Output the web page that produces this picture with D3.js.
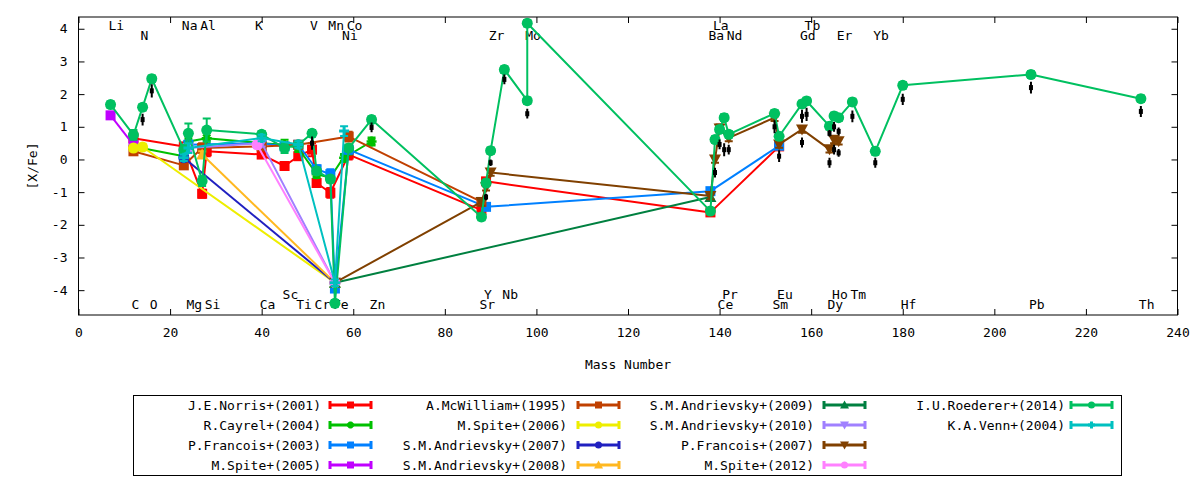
<!DOCTYPE html>
<html>
<head>
<meta charset="utf-8">
<script src="https://cdn.jsdelivr.net/npm/d3@7"></script>
<style>
    body { margin: 0; background: #fff; }
    text { font-family: "DejaVu Sans Mono", monospace; font-size: 13px; fill: #000; }
</style>
</head>
<body>
<svg id="chart" width="1200" height="480"></svg>
<script>
// ---- data ([X/Fe] against mass number) ----
const norrisMass = [12, 23, 27, 28, 40, 45, 48, 51, 52, 55, 59, 88, 89, 138, 153];
const norrisVal  = [0.65, 0.4, -1.05, 0.25, 0.15, -0.2, 0.1, 0.3, -0.72, -1.02, 0.15, -1.55, -0.67, -1.62, 0.4];
const norrisErr  = [0.2, 0.1, 0.12, 0.15, 0.1, 0.12, 0.12, 0.2, 0.12, 0.15, 0.15, 0.1, 0.1, 0.1, 0.1];

const cayrelMass = [12, 23, 24, 28, 40, 45, 48, 52, 55, 59, 58, 64];
const cayrelVal  = [0.4, 0.1, 0.55, 0.65, 0.5, 0.45, 0.35, -0.45, -0.55, 0.3, 0.05, 0.55];
const cayrelErr  = [0.15, 0.15, 0.15, 0.15, 0.1, 0.15, 0.12, 0.12, 0.15, 0.15, 0.12, 0.12];

const francois03Mass = [23, 24, 40, 45, 48, 52, 55, 56, 59, 89, 138, 153];
const francois03Val  = [0.15, 0.45, 0.5, 0.4, 0.45, -0.3, -0.45, -3.95, 0.3, -1.45, -0.97, 0.42];
const francois03Err  = [0.1, 0.12, 0.1, 0.1, 0.1, 0.12, 0.15, 0.1, 0.12, 0.1, 0.1, 0.1];

const spite05Mass = [7, 12];
const spite05Val  = [1.35, 0.45];
const spite05Err  = [0.1, 0.1];

const mcwilliamMass = [12, 23, 27, 40, 48, 59, 88];
const mcwilliamVal  = [0.25, -0.18, 0.35, 0.4, 0.45, 0.7, -1.3];
const mcwilliamErr  = [0.1, 0.1, 0.15, 0.1, 0.1, 0.15, 0.1];

const spite06Mass = [12, 14, 56];
const spite06Val  = [0.35, 0.38, -3.77];
const spite06Err  = [0.1, 0.1, 0.1];

const andr07Mass = [23, 56];
const andr07Val  = [0.05, -3.77];
const andr07Err  = [0.1, 0.1];

const andr08Mass = [27, 56];
const andr08Val  = [0.15, -3.77];
const andr08Err  = [0.1, 0.1];

const andr09Mass = [56, 138];
const andr09Val  = [-3.77, -1.15];
const andr09Err  = [0.1, 0.1];

const andr10Mass = [24, 40, 56];
const andr10Val  = [0.35, 0.5, -3.77];
const andr10Err  = [0.1, 0.1, 0.1];

const francois07Mass = [56, 88, 89, 90, 138, 139, 140, 142, 152, 153, 158, 164, 165, 166];
const francois07Val  = [-3.77, -1.3, -0.85, -0.4, -1.12, 0.0, 0.95, 0.66, 1.28, 0.46, 0.92, 0.31, 0.6, 0.56];
const francois07Err  = [0.1, 0.12, 0.1, 0.1, 0.1, 0.1, 0.12, 0.1, 0.1, 0.1, 0.1, 0.1, 0.1, 0.1];

const spite12Mass = [39, 56];
const spite12Val  = [0.45, -3.77];
const spite12Err  = [0.1, 0.1];

const roedererMass = [7, 12, 14, 16, 23, 24, 27, 28, 40, 45, 48, 51, 52, 55, 56, 59, 64,
                      88, 89, 90, 93, 98, 98, 138, 139, 140, 141, 142, 152, 153, 158, 159,
                      164, 165, 166, 169, 174, 180, 208, 232];
const roedererVal  = [1.68, 0.75, 1.6, 2.47, 0.3, 0.8, -0.66, 0.9, 0.77, 0.35, 0.45, 0.8, -0.35, -0.6, -4.4, 0.35, 1.22,
                      -1.76, -0.72, 0.27, 2.75, 1.8, 4.17, -1.58, 0.61, 0.92, 1.28, 0.77, 1.41, 0.71, 1.7, 1.79,
                      1.02, 1.33, 1.28, 1.76, 0.25, 2.27, 2.6, 1.86];
const roedererErr  = [0.1, 0.15, 0.1, 0.1, 0.15, 0.3, 0.15, 0.35, 0.1, 0.15, 0.1, 0.1, 0.1, 0.1, 0.1, 0.1, 0.1,
                      0.1, 0.1, 0.1, 0.1, 0.1, 0.1, 0.1, 0.1, 0.1, 0.1, 0.1, 0.1, 0.1, 0.1, 0.1,
                      0.1, 0.1, 0.1, 0.1, 0.1, 0.1, 0.1, 0.1];

const vennMass = [23, 24, 40, 48, 56, 58];
const vennVal  = [0.05, 0.35, 0.66, 0.46, -3.77, 0.87];
const vennErr  = [0.1, 0.15, 0.1, 0.1, 0.1, 0.15];

// black error bars under the points
const blackMass = [14, 16, 51, 64, 89, 90, 93, 98, 139, 140, 141, 142, 152, 153, 158, 158, 159,
                   164, 164, 165, 165, 166, 166, 169, 174, 180, 208, 232];
const blackVal  = [1.22, 2.1, 0.5, 0.98, -1.15, -0.1, 2.45, 1.4, -0.4, 0.46, 0.3, 0.3, 1.0, 0.1, 1.32, 0.52, 1.38,
                   0.8, -0.1, 1.0, 0.3, 0.86, 0.2, 1.32, -0.1, 1.84, 2.2, 1.47];
const blackErr  = [0.18, 0.2, 0.2, 0.15, 0.1, 0.1, 0.15, 0.15, 0.15, 0.15, 0.2, 0.15, 0.2, 0.18, 0.2, 0.15, 0.2,
                   0.1, 0.15, 0.15, 0.15, 0.12, 0.12, 0.18, 0.15, 0.17, 0.18, 0.17];

// element labels
const topRow1 = ['Li', 'Na', 'Al', 'K', 'V', 'Mn', 'Co', 'La', 'Tb'];
const topRow1Mass = [7, 23, 27, 39, 51, 55, 59, 139, 159];
const topRow2 = ['N', 'Ni', 'Zr', 'Mo', 'Ba', 'Nd', 'Gd', 'Er', 'Yb'];
const topRow2Mass = [14, 58, 90, 98, 138, 142, 158, 166, 174];
const botRow1 = ['Sc', 'Y', 'Nb', 'Pr', 'Eu', 'Ho', 'Tm'];
const botRow1Mass = [45, 89, 93, 141, 153, 165, 169];
const botRow2 = ['C', 'O', 'Mg', 'Si', 'Ca', 'Ti', 'Cr', 'Fe', 'Zn', 'Sr', 'Ce', 'Sm', 'Dy', 'Hf', 'Pb', 'Th'];
const botRow2Mass = [12, 16, 24, 28, 40, 48, 52, 56, 64, 88, 140, 152, 164, 180, 208, 232];

const xTicks = [0, 20, 40, 60, 80, 100, 120, 140, 160, 180, 200, 220, 240];
const yTicks = [-4, -3, -2, -1, 0, 1, 2, 3, 4];

// ---- series table (legend order) ----
const seriesNames = ['J.E.Norris+(2001)', 'R.Cayrel+(2004)', 'P.Francois+(2003)', 'M.Spite+(2005)',
    'A.McWilliam+(1995)', 'M.Spite+(2006)', 'S.M.Andrievsky+(2007)', 'S.M.Andrievsky+(2008)',
    'S.M.Andrievsky+(2009)', 'S.M.Andrievsky+(2010)', 'P.Francois+(2007)', 'M.Spite+(2012)',
    'I.U.Roederer+(2014)', 'K.A.Venn+(2004)'];
const seriesMass = [norrisMass, cayrelMass, francois03Mass, spite05Mass, mcwilliamMass, spite06Mass,
    andr07Mass, andr08Mass, andr09Mass, andr10Mass, francois07Mass, spite12Mass, roedererMass, vennMass];
const seriesVal = [norrisVal, cayrelVal, francois03Val, spite05Val, mcwilliamVal, spite06Val,
    andr07Val, andr08Val, andr09Val, andr10Val, francois07Val, spite12Val, roedererVal, vennVal];
const seriesErr = [norrisErr, cayrelErr, francois03Err, spite05Err, mcwilliamErr, spite06Err,
    andr07Err, andr08Err, andr09Err, andr10Err, francois07Err, spite12Err, roedererErr, vennErr];

const seriesColors = ['#ff0000', '#00c000', '#0080ff', '#c000ff', '#c04000', '#eeee00', '#2020c0',
    '#ffb820', '#008040', '#a080ff', '#804000', '#ff80ff', '#00c060', '#00c0c0'];
const seriesShapes = ['square', 'star', 'square', 'square', 'square', 'circle', 'circle',
    'triUp', 'triUp', 'triDown', 'triDown', 'circle', 'circle', 'plus'];

const series = seriesNames.map((name, i) => ({
    name: name,
    color: seriesColors[i],
    shape: seriesShapes[i],
    points: seriesMass[i].map((m, j) => ({ m: m, v: seriesVal[i][j], e: seriesErr[i][j] }))
}));

// ---- layout ----
const margin = { top: 17, right: 22.5, bottom: 165, left: 78.5 };
const width = 1200, height = 480;
const plotBottom = height - margin.bottom;

const svg = d3.select('#chart');

const xScale = d3.scaleLinear()
    .domain([0, 240])
    .range([margin.left, width - margin.right]);

const yScale = d3.scaleLinear()
    .domain([-4.76, 4.36])
    .range([plotBottom, margin.top]);

svg.append('clipPath')
        .attr('id', 'plotClip')
    .append('rect')
        .attr('x', margin.left)
        .attr('y', margin.top)
        .attr('width', xScale.range()[1] - margin.left)
        .attr('height', plotBottom - margin.top);

// axes, ticks pointing inward, mirrored on top/right
const xAxis = d3.axisBottom(xScale).tickValues(xTicks).tickSizeInner(-6).tickSizeOuter(0)
    .tickPadding(13).tickFormat(d => String(d));
const yAxis = d3.axisLeft(yScale).tickValues(yTicks).tickSizeInner(-6).tickSizeOuter(0)
    .tickPadding(11).tickFormat(d => String(d));

const xAxisEl = svg.append('g')
    .attr('transform', `translate(0, ${plotBottom})`)
    .call(xAxis);
const yAxisEl = svg.append('g')
    .attr('transform', `translate(${margin.left}, 0)`)
    .call(yAxis);
svg.append('g')
    .attr('transform', `translate(0, ${margin.top})`)
    .call(d3.axisTop(xScale).tickValues(xTicks).tickSizeInner(-6).tickSizeOuter(0).tickFormat(''));
svg.append('g')
    .attr('transform', `translate(${xScale.range()[1]}, 0)`)
    .call(d3.axisRight(yScale).tickValues(yTicks).tickSizeInner(-6).tickSizeOuter(0).tickFormat(''));

svg.selectAll('.domain').remove();
svg.selectAll('.tick line').attr('stroke', '#000');
svg.selectAll('.tick text')
    .style('font-family', '"DejaVu Sans Mono", monospace')
    .style('font-size', '13px')
    .attr('fill', '#000');

svg.append('rect')
    .attr('x', margin.left)
    .attr('y', margin.top)
    .attr('width', xScale.range()[1] - margin.left)
    .attr('height', plotBottom - margin.top)
    .attr('fill', 'none')
    .attr('stroke', '#000')
    .attr('stroke-width', 1);

svg.append('text')
    .text('Mass Number')
    .attr('x', (margin.left + xScale.range()[1]) / 2)
    .attr('y', 369)
    .style('text-anchor', 'middle');

svg.append('text')
    .text('[X/Fe]')
    .attr('transform', 'rotate(-90)')
    .attr('x', -(margin.top + plotBottom) / 2)
    .attr('y', 37)
    .style('text-anchor', 'middle');

// element labels (drawn behind the data)
const labelGroup = svg.append('g');
function addLabels(names, masses, yVal) {
    labelGroup.selectAll(null)
        .data(names)
        .enter()
        .append('text')
        .text(d => d)
        .attr('x', (d, i) => xScale(masses[i]) - 2)
        .attr('y', yScale(yVal))
        .attr('dominant-baseline', 'central');
}
addLabels(topRow1, topRow1Mass, 4.1);
addLabels(topRow2, topRow2Mass, 3.8);
addLabels(botRow1, botRow1Mass, -4.12);
addLabels(botRow2, botRow2Mass, -4.45);

// marker drawing
function drawMarker(g, shape, cx, cy, s, color) {
    const h = s / 2;
    if (shape === 'circle') {
        g.append('circle').attr('cx', cx).attr('cy', cy).attr('r', h).attr('fill', color);
    } else if (shape === 'square') {
        g.append('rect').attr('x', cx - h).attr('y', cy - h).attr('width', s).attr('height', s).attr('fill', color);
    } else if (shape === 'triUp') {
        g.append('path').attr('d', `M${cx - h - 1},${cy + h}L${cx + h + 1},${cy + h}L${cx},${cy - h - 1}Z`).attr('fill', color);
    } else if (shape === 'triDown') {
        g.append('path').attr('d', `M${cx - h - 1},${cy - h}L${cx + h + 1},${cy - h}L${cx},${cy + h + 1}Z`).attr('fill', color);
    } else if (shape === 'plus') {
        g.append('path').attr('d', `M${cx - h},${cy}H${cx + h}M${cx},${cy - h}V${cy + h}`)
            .attr('stroke', color).attr('stroke-width', 3).attr('fill', 'none');
    } else if (shape === 'star') {
        g.append('path').attr('d', `M${cx - h},${cy}H${cx + h}M${cx},${cy - h}V${cy + h}` +
                `M${cx - h * 0.7},${cy - h * 0.7}L${cx + h * 0.7},${cy + h * 0.7}M${cx - h * 0.7},${cy + h * 0.7}L${cx + h * 0.7},${cy - h * 0.7}`)
            .attr('stroke', color).attr('stroke-width', 2.5).attr('fill', 'none');
    }
}

const plot = svg.append('g').attr('clip-path', 'url(#plotClip)');

const line = d3.line()
    .x(d => xScale(d.m))
    .y(d => yScale(d.v));

series.forEach(s => {
    const g = plot.append('g');
    g.append('path')
        .datum(s.points)
        .attr('d', line)
        .attr('fill', 'none')
        .attr('stroke', s.color)
        .attr('stroke-width', 2)
        .attr('stroke-linejoin', 'round');

    s.points.forEach(p => {
        const px = xScale(p.m);
        const y1 = yScale(p.v + p.e), y2 = yScale(p.v - p.e);
        g.append('path')
            .attr('d', `M${px},${y1}V${y2}M${px - 4},${y1}H${px + 4}M${px - 4},${y2}H${px + 4}`)
            .attr('stroke', s.color)
            .attr('stroke-width', 2)
            .attr('fill', 'none');
        drawMarker(g, s.shape, px, yScale(p.v), s.shape === 'circle' ? 11 : 10, s.color);
    });
});

// black bars
const blackG = plot.append('g');
blackMass.forEach((m, i) => {
    const px = xScale(m);
    blackG.append('line')
        .attr('x1', px).attr('x2', px)
        .attr('y1', yScale(blackVal[i] + blackErr[i]))
        .attr('y2', yScale(blackVal[i] - blackErr[i]))
        .attr('stroke', '#000')
        .attr('stroke-width', 2);
    blackG.append('rect')
        .attr('x', px - 2).attr('y', yScale(blackVal[i]) - 2.5)
        .attr('width', 4).attr('height', 5)
        .attr('fill', '#000');
});

// ---- legend ----
const legendBox = { x: 133.5, y: 395.5, w: 988, h: 80 };
svg.append('rect')
    .attr('x', legendBox.x).attr('y', legendBox.y)
    .attr('width', legendBox.w).attr('height', legendBox.h)
    .attr('fill', 'none').attr('stroke', '#000').attr('stroke-width', 1);

const legendTextEnd = [321, 567, 814, 1065];
const legendSampleStart = [329, 577, 823, 1070];
const legendRowY = [405, 425, 445, 465];

series.forEach((s, i) => {
    const col = Math.floor(i / 4), row = i % 4;
    const ly = legendRowY[row];
    const sx = legendSampleStart[col];
    const g = svg.append('g');
    g.append('text')
        .text(s.name)
        .attr('x', legendTextEnd[col])
        .attr('y', ly)
        .attr('dominant-baseline', 'central')
        .style('text-anchor', 'end');
    g.append('path')
        .attr('d', `M${sx},${ly}H${sx + 43}M${sx + 1},${ly - 4}V${ly + 4}M${sx + 42},${ly - 4}V${ly + 4}`)
        .attr('stroke', s.color)
        .attr('stroke-width', 3)
        .attr('fill', 'none');
    drawMarker(g, s.shape, sx + 21.5, ly, 7, s.color);
});
</script>
</body>
</html>
